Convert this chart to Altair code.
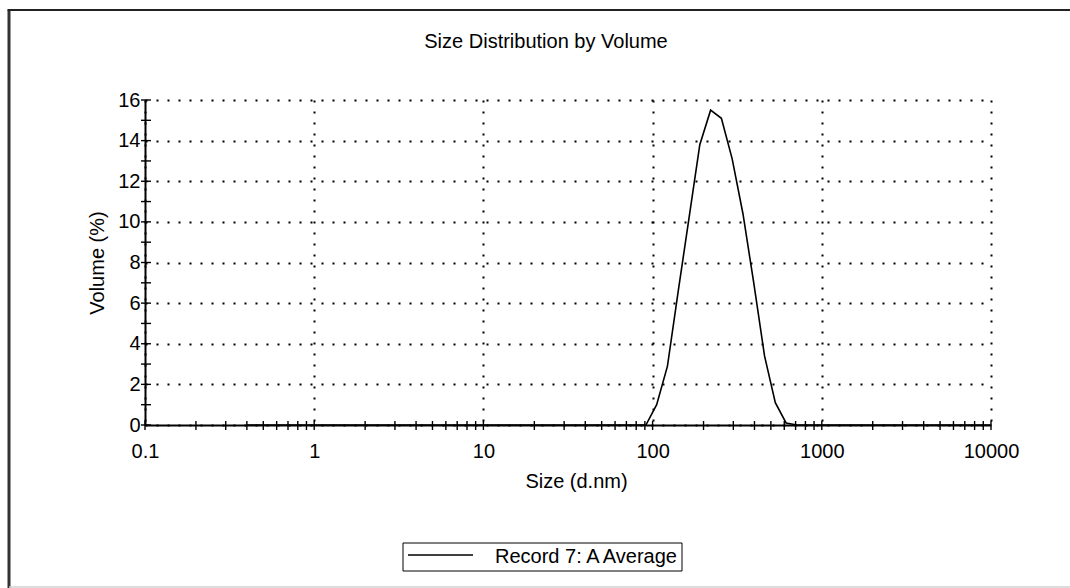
import altair as alt
import pandas as pd

# Size bins (d.nm) and the averaged volume distribution (%)
sizes = [0.4000, 0.4632, 0.5365, 0.6213, 0.7195, 0.8332, 0.9649, 1.117, 1.294, 1.499,
         1.736, 2.010, 2.328, 2.696, 3.122, 3.615, 4.187, 4.849, 5.615, 6.503,
         7.531, 8.721, 10.10, 11.70, 13.54, 15.69, 18.17, 21.04, 24.36, 28.21,
         32.67, 37.84, 43.82, 50.75, 58.77, 68.06, 78.82, 91.28, 105.7, 122.4,
         141.8, 164.2, 190.1, 220.2, 255.0, 295.3, 342.0, 396.1, 458.7, 531.2,
         615.1, 712.4, 825.0, 955.4, 1106, 1281, 1484, 1718, 1990, 2305,
         2669, 3091, 3580, 4145, 4801, 5560, 6439, 7456, 8635, 10000]
volume = [0.0] * 38 + [1.0, 2.9, 6.6, 10.2, 13.8, 15.5, 15.1, 13.1, 10.4, 7.0,
                       3.4, 1.1, 0.1] + [0.0] * 19
series_name = "Record 7: A Average"
chart_title = "Size Distribution by Volume"

x_labels = [0.1, 1, 10, 100, 1000, 10000]
y_labels = [0, 2, 4, 6, 8, 10, 12, 14, 16]
x_ticks = [m * d for d in [0.1, 1, 10, 100, 1000] for m in range(1, 10)] + [10000]
y_ticks = list(range(0, 17))

FONT = "Liberation Sans"
FS = 20
W, H = 846, 325

df = pd.DataFrame({"size": sizes, "volume": volume})

x_scale = alt.Scale(type="log", domain=[0.1, 10000], nice=False)
y_scale = alt.Scale(domain=[0, 16], nice=False)

line = alt.Chart(df).mark_line(strokeWidth=1.6, color="black").encode(
    x=alt.X("size:Q", scale=x_scale,
            axis=alt.Axis(values=x_labels, format="~g", title="Size (d.nm)",
                          titleX=431, titleY=56, titleBaseline="middle",
                          labelPadding=16)),
    y=alt.Y("volume:Q", scale=y_scale,
            axis=alt.Axis(values=y_labels, title="Volume (%)",
                          titleX=-48, titleY=162.5, titleAngle=-90,
                          titleBaseline="middle", titleAlign="center",
                          labelPadding=5)),
)

# tick marks crossing the axis lines
xt = alt.Chart(pd.DataFrame({"size": x_ticks})).mark_rule(color="black", strokeWidth=1.4).encode(
    x=alt.X("size:Q", scale=x_scale),
    y=alt.value(H - 4), y2=alt.value(H + 5),
)
yt = alt.Chart(pd.DataFrame({"volume": y_ticks})).mark_rule(color="black", strokeWidth=1.4).encode(
    y=alt.Y("volume:Q", scale=y_scale),
    x=alt.value(-4), x2=alt.value(6),
)

one = pd.DataFrame({"a": [0]})

# chart title
title = alt.Chart(one).mark_text(font=FONT, fontSize=FS, color="black",
                                 align="center", baseline="alphabetic").encode(
    x=alt.value(401), y=alt.value(-52), text=alt.value(chart_title))

# boxed legend below the plot
legend_box = alt.Chart(one).mark_rect(fill="white", stroke="black", strokeWidth=1).encode(
    x=alt.value(258), x2=alt.value(537), y=alt.value(443), y2=alt.value(471))
legend_line = alt.Chart(one).mark_rule(color="black", strokeWidth=1.5).encode(
    x=alt.value(263), x2=alt.value(328), y=alt.value(455))
legend_text = alt.Chart(one).mark_text(font=FONT, fontSize=FS, color="black",
                                       align="left", baseline="middle").encode(
    x=alt.value(350), y=alt.value(457), text=alt.value(series_name))

# outer frame
frame_left = alt.Chart(one).mark_rule(color="#333333", strokeWidth=3).encode(
    x=alt.value(-136), y=alt.value(-90), y2=alt.value(488))
frame_top = alt.Chart(one).mark_rule(color="#222222", strokeWidth=2).encode(
    x=alt.value(-137.5), x2=alt.value(925), y=alt.value(-90))
frame_bottom = alt.Chart(one).mark_rule(color="#d0d0d0", strokeWidth=1.5).encode(
    x=alt.value(-136), x2=alt.value(925), y=alt.value(487))

chart = alt.layer(
    line, xt, yt, title, legend_box, legend_line, legend_text,
    frame_left, frame_top, frame_bottom,
).properties(
    width=W, height=H,
    padding={"left": 145, "top": 100, "right": 79, "bottom": 163},
    autosize=alt.AutoSizeParams(type="none"),
    background="white",
).configure_view(stroke=None).configure_axis(
    labelFont=FONT, labelFontSize=FS, labelColor="black",
    titleFont=FONT, titleFontSize=FS, titleFontWeight="normal", titleColor="black",
    domainColor="black", domainWidth=2, ticks=False,
    grid=True, gridColor="black", gridWidth=2, gridDash=[2, 9], gridOpacity=1,
    labelFlush=False, labelOverlap=False, labelBound=False,
)

chart.save("out.html", embed_options={"renderer": "svg", "actions": False})
